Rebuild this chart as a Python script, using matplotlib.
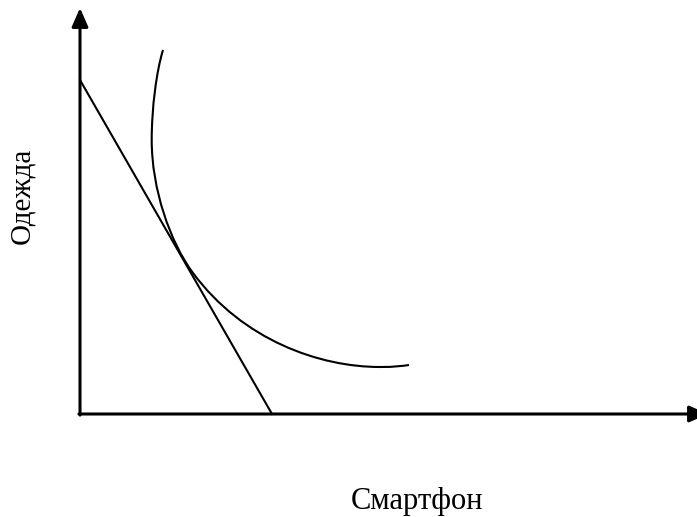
import matplotlib
matplotlib.use("Agg")
from matplotlib import pyplot as plt
from matplotlib.path import Path
from matplotlib.patches import PathPatch

# Кривая безразличия: опорные точки кривых Безье (единицы от начала координат)
curve_x = [83, 76.5, 71.7, 71.7, 71.7, 90, 113, 163, 240, 300, 315, 322, 329]
curve_y = [364, 343, 306, 274, 225, 172, 141, 73.5, 47, 47, 47, 48, 49]

# Бюджетная линия
budget_x = [0, 192]
budget_y = [334, 0]

x_label = "Смартфон"
y_label = "Одежда"

fig = plt.figure(figsize=(6.97, 5.17), dpi=100)
ax = fig.add_axes([0, 0, 1, 1])
ax.set_xlim(-80, 617)
ax.set_ylim(-103, 414)
ax.axis("off")

arrow = dict(arrowstyle="-|>,head_length=0.75,head_width=0.33", lw=2.2,
             color="black", mutation_scale=15, shrinkA=0, shrinkB=0)
ax.annotate("", xy=(0, 406), xytext=(0, -1.1), arrowprops=arrow)
ax.annotate("", xy=(628, 0), xytext=(-1.1, 0), arrowprops=arrow,
            annotation_clip=False)

ax.plot(budget_x, budget_y, color="black", lw=1.5)

codes = [Path.MOVETO] + [Path.CURVE4] * (len(curve_x) - 1)
path = Path(list(zip(curve_x, curve_y)), codes)
ax.add_patch(PathPatch(path, facecolor="none", edgecolor="black", lw=1.5))

ax.text(-58, 218, y_label, rotation=90, ha="center", va="center",
        family="Liberation Serif", fontsize=21)
ax.text(337, -88, x_label, ha="center", va="center",
        family="Liberation Serif", fontsize=22)

plt.savefig("out.png", dpi=100)
